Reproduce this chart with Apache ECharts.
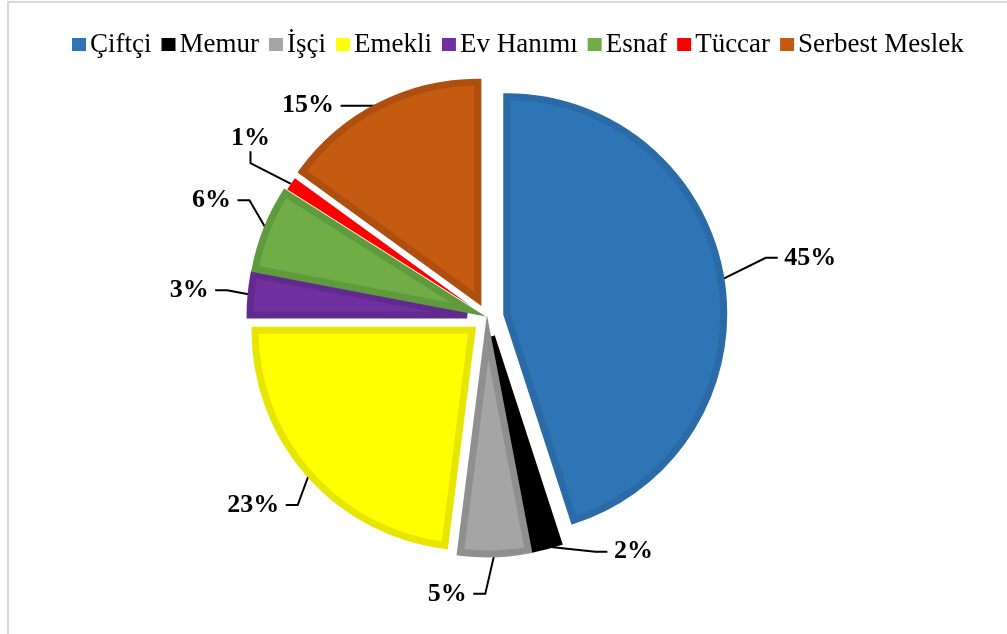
<!DOCTYPE html>
<html>
<head>
<meta charset="utf-8">
<script src="https://cdn.jsdelivr.net/npm/echarts@6/dist/echarts.min.js"></script>
<style>
  html, body { margin: 0; padding: 0; background: #fff; }
  #container { width: 1007px; height: 634px; }
</style>
</head>
<body>
<div id="container"></div>
<script>
// meslek dağılımı (yüzde)
const categories = ['Çiftçi', 'Memur', 'İşçi', 'Emekli', 'Ev Hanımı', 'Esnaf', 'Tüccar', 'Serbest Meslek'];
const values = [45, 2, 5, 23, 3, 6, 1, 15];
const fillColors = ['#2E75B6', '#000000', '#A5A5A5', '#FFFF00', '#7030A0', '#70AD47', '#FF0000', '#C55A11'];
const edgeColors = ['#2A6AA6', '#000000', '#8F8F8F', '#E6E600', '#612A8E', '#5F9A3C', '#FF0000', '#AE4F0F'];
const edgeWidths = [7, 6, 7, 7, 7, 7, 0, 7];

window.onload = function () {
    const dom = document.getElementById('container');
    const myChart = echarts.init(dom, null, { renderer: 'canvas' });

    const cx = 487, cy = 317, explode = 20;
    const total = values.reduce(function (a, b) { return a + b; }, 0);
    // Excel'deki etiket yerlerine yaklaştırmak için kaydırmalar
    const labelNudge = [[22, -18], [46, -20], [-83, 14], [11, 14], [5, -2], [10, -20], [22, -31], [-12, 23]];
    const pad = 3;

    // her dilim ayrı bir pasta serisi: dilim kendi orta açısı yönünde dışa kayar
    let before = 0;
    const series = categories.map(function (name, i) {
        const mid = (before + values[i] / 2) / total * 2 * Math.PI;
        before += values[i];
        const data = categories.map(function (n, j) {
            if (j !== i) {
                return {
                    name: n, value: values[j],
                    itemStyle: { color: 'rgba(0,0,0,0)', borderWidth: 0 },
                    label: { show: false }, labelLine: { show: false }
                };
            }
            return {
                name: n, value: values[j],
                itemStyle: { color: fillColors[j], borderColor: edgeColors[j], borderWidth: edgeWidths[j], borderJoin: 'miter' }
            };
        });
        return {
            type: 'pie',
            name: name,
            center: [cx + explode * Math.sin(mid), cy - explode * Math.cos(mid)],
            radius: [0, 217],
            startAngle: 90,
            clockwise: true,
            silent: true,
            avoidLabelOverlap: false,
            emphasis: { disabled: true },
            label: {
                show: true,
                position: 'outside',
                formatter: ' {c}% ',
                fontFamily: 'Liberation Serif',
                fontWeight: 'bold',
                fontSize: 26,
                color: '#000',
                distanceToLabelLine: 0
            },
            labelLine: {
                show: true,
                length: 26,
                length2: 12,
                smooth: false,
                lineStyle: { color: '#000', width: 2 }
            },
            labelLayout: function (p) {
                if (p.dataIndex !== i) return {};
                const n = labelNudge[i];
                return {
                    x: p.labelRect.x + n[0] - pad,
                    y: p.labelRect.y + n[1],
                    align: 'left',
                    verticalAlign: 'top'
                };
            },
            data: data
        };
    });

    const option = {
        animation: false,
        backgroundColor: '#fff',
        graphic: [{
            type: 'rect',
            shape: { x: 8, y: 2, width: 1010, height: 650 },
            style: { fill: 'none', stroke: '#D9D9D9', lineWidth: 2 },
            silent: true
        }],
        legend: {
            top: 31,
            left: 72,
            padding: 0,
            itemWidth: 14,
            itemHeight: 13,
            itemGap: 10,
            icon: 'rect',
            selectedMode: false,
            textStyle: {
                fontFamily: 'Liberation Serif',
                fontSize: 27,
                color: '#000',
                padding: [0, 0, 0, -1]
            },
            data: categories.map(function (name, i) {
                return { name: name, itemStyle: { color: fillColors[i], borderWidth: 0 } };
            })
        },
        series: series
    };

    myChart.setOption(option);
};
</script>
</body>
</html>
